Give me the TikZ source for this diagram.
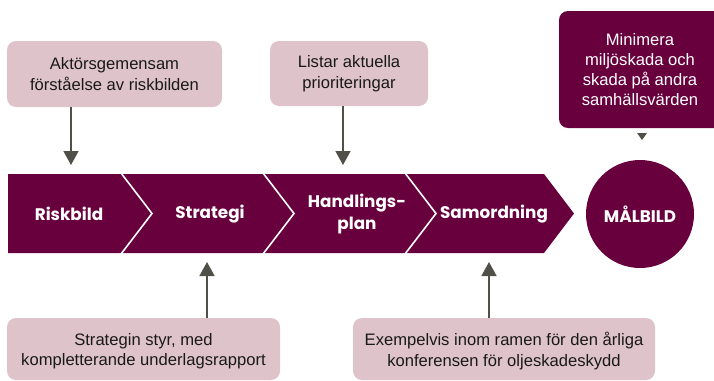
\documentclass[tikz,border=0pt]{standalone}
\usepackage{fontspec}
\setmainfont{Liberation Sans}
\newfontfamily\chevfont{Poppins}
\usetikzlibrary{arrows.meta}
\definecolor{plum}{RGB}{103,0,61}
\definecolor{pinkbox}{RGB}{223,195,202}
\definecolor{arrgray}{RGB}{80,80,72}
\begin{document}
\begin{tikzpicture}[x=1pt,y=-1pt,
  infobox/.style={fill=pinkbox,rounded corners=9pt},
  infotext/.style={align=center,text=black!90,font=\fontsize{16.6}{20.5}\selectfont},
  chevtext/.style={align=center,text=white,font=\chevfont\bfseries\fontsize{16.8}{22.5}\selectfont},
  conn/.style={draw=arrgray,line width=1.6pt,-{Triangle[width=15pt,length=14pt]}},
]
\useasboundingbox (0,0) rectangle (714,380);
% band of chevrons
\fill[plum] (8,174) -- (544,174) -- (574,213.5) -- (544,253) -- (8,253) -- cycle;
\foreach \a/\b in {121/152,263/294,405/436}
  \draw[white,line width=1.6pt] (\a,173) -- (\b,213.5) -- (\a,254);
\node[chevtext] (riskbild) at (69,214) {Riskbild};
\node[chevtext] (strategi) at (210,214) {Strategi};
\node[chevtext] (handling) at (357,214) {Handlings-\\plan};
\node[chevtext] (samord) at (494,214) {Samordning};
% goal circle
\node[circle,fill=plum,minimum size=108pt,inner sep=0pt] (mal) at (640,214) {};
\node[chevtext] (maltext) at (mal) {MÅLBILD};
% top boxes
\fill[infobox] (7,41) rectangle (222,107);
\node[infotext] (b1) at (114.5,74) {Aktörsgemensam\\förståelse av riskbilden};
\fill[infobox] (270,41) rectangle (428,106);
\node[infotext] (b2) at (349,73.5) {Listar aktuella\\prioriteringar};
% bottom boxes
\fill[infobox] (7,318) rectangle (280,380);
\node[infotext] (b3) at (143.5,351) {Strategin styr, med\\kompletterande underlagsrapport};
\fill[infobox] (353,318) rectangle (655,380);
\node[infotext] (b4) at (504,351) {Exempelvis inom ramen för den årliga\\konferensen för oljeskadeskydd};
% top right box
\fill[plum,rounded corners=9pt] (559,11) rectangle (724,128);
\node[align=center,text=white,font=\fontsize{16.6}{20}\selectfont] (goalbox) at (640,70) {Minimera\\miljöskada och\\skada på andra\\samhällsvärden};
% connectors
\coordinate (t1a) at (71,107); \coordinate (t1b) at (71,165);
\coordinate (t2a) at (343,106); \coordinate (t2b) at (343,165);
\coordinate (u1a) at (207,318); \coordinate (u1b) at (207,262);
\coordinate (u2a) at (489,318); \coordinate (u2b) at (489,262);
\draw[conn] (t1a) -- (t1b);
\draw[conn] (t2a) -- (t2b);
\draw[conn] (u1a) -- (u1b);
\draw[conn] (u2a) -- (u2b);
\coordinate (g1) at (637,133); \coordinate (g2) at (647,133); \coordinate (g3) at (642,140);
\fill[arrgray] (g1) -- (g2) -- (g3) -- cycle;
\end{tikzpicture}
\end{document}
